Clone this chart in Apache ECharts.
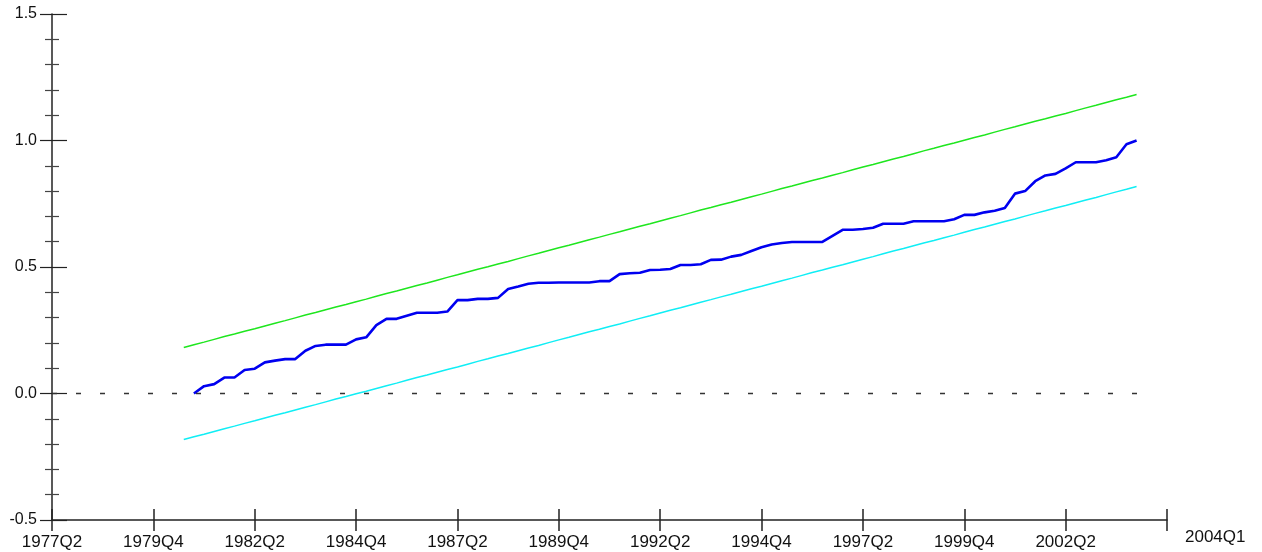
<!DOCTYPE html>
<html>
<head>
<meta charset="utf-8">
<script src="https://cdn.jsdelivr.net/npm/echarts@6/dist/echarts.min.js"></script>
<style>
  html, body { margin: 0; padding: 0; background: #fff; }
  #main { width: 1262px; height: 552px; }
</style>
</head>
<body>
<div id="main"></div>
<script>
// quarterly categories 1977Q2 .. 2004Q4 (axis length)
var startYear = 1977, startQ = 2, nQuarters = 111;
var quarters = [];
for (var i = 0; i < nQuarters; i++) {
    var q = startQ - 1 + i;
    quarters.push((startYear + Math.floor(q / 4)) + 'Q' + (q % 4 + 1));
}

var xTickLabels = ['1977Q2', '1979Q4', '1982Q2', '1984Q4', '1987Q2', '1989Q4',
                   '1992Q2', '1994Q4', '1997Q2', '1999Q4', '2002Q2'];
var xEndLabel = '2004Q1';
var yTicks = [-0.5, 0.0, 0.5, 1.0, 1.5];

// CUSUM of squares, 1980Q4 .. 2004Q1
var cusumStart = '1980Q4';
var cusumSq = [
    0.000, 0.029, 0.037, 0.063, 0.063, 0.093, 0.098, 0.123, 0.130, 0.136,
    0.136, 0.169, 0.188, 0.193, 0.193, 0.193, 0.214, 0.222, 0.270, 0.295,
    0.295, 0.307, 0.319, 0.319, 0.319, 0.324, 0.369, 0.369, 0.374, 0.374,
    0.378, 0.413, 0.423, 0.434, 0.438, 0.438, 0.439, 0.439, 0.439, 0.439,
    0.444, 0.444, 0.472, 0.475, 0.477, 0.488, 0.489, 0.492, 0.508, 0.508,
    0.511, 0.528, 0.529, 0.541, 0.548, 0.563, 0.578, 0.589, 0.595, 0.599,
    0.599, 0.599, 0.599, 0.623, 0.647, 0.647, 0.650, 0.655, 0.671, 0.671,
    0.671, 0.681, 0.681, 0.681, 0.681, 0.689, 0.706, 0.706, 0.716, 0.722,
    0.733, 0.790, 0.800, 0.839, 0.862, 0.868, 0.890, 0.914, 0.914, 0.914,
    0.922, 0.934, 0.985, 1.000
];

// 5% significance bands, 1980Q3 .. 2004Q1
var bandStart = '1980Q3';
var upperBand = [
    0.182, 0.193, 0.203, 0.214, 0.225, 0.235, 0.246, 0.256, 0.267, 0.278,
    0.288, 0.299, 0.310, 0.320, 0.331, 0.342, 0.352, 0.363, 0.373, 0.384,
    0.395, 0.405, 0.416, 0.427, 0.437, 0.448, 0.459, 0.469, 0.480, 0.491,
    0.501, 0.512, 0.522, 0.533, 0.544, 0.554, 0.565, 0.576, 0.586, 0.597,
    0.608, 0.618, 0.629, 0.639, 0.650, 0.661, 0.671, 0.682, 0.693, 0.703,
    0.714, 0.725, 0.735, 0.746, 0.756, 0.767, 0.778, 0.788, 0.799, 0.810,
    0.820, 0.831, 0.842, 0.852, 0.863, 0.873, 0.884, 0.895, 0.905, 0.916,
    0.927, 0.937, 0.948, 0.959, 0.969, 0.980, 0.990, 1.001, 1.012, 1.022,
    1.033, 1.044, 1.054, 1.065, 1.076, 1.086, 1.097, 1.107, 1.118, 1.129,
    1.139, 1.150, 1.161, 1.171, 1.182
];
var lowerBand = [
    -0.182, -0.171, -0.161, -0.150, -0.139, -0.129, -0.118, -0.108, -0.097, -0.086,
    -0.076, -0.065, -0.054, -0.044, -0.033, -0.022, -0.012, -0.001, 0.009, 0.020,
    0.031, 0.041, 0.052, 0.063, 0.073, 0.084, 0.095, 0.105, 0.116, 0.127,
    0.137, 0.148, 0.158, 0.169, 0.180, 0.190, 0.201, 0.212, 0.222, 0.233,
    0.244, 0.254, 0.265, 0.275, 0.286, 0.297, 0.307, 0.318, 0.329, 0.339,
    0.350, 0.361, 0.371, 0.382, 0.392, 0.403, 0.414, 0.424, 0.435, 0.446,
    0.456, 0.467, 0.478, 0.488, 0.499, 0.509, 0.520, 0.531, 0.541, 0.552,
    0.563, 0.573, 0.584, 0.595, 0.605, 0.616, 0.626, 0.637, 0.648, 0.658,
    0.669, 0.680, 0.690, 0.701, 0.712, 0.722, 0.733, 0.743, 0.754, 0.765,
    0.775, 0.786, 0.797, 0.807, 0.818
];

var zeroFrom = '1977Q2', zeroTo = '2004Q2';

function toPairs(start, vals) {
    var s = quarters.indexOf(start);
    return vals.map(function (v, k) { return [s + k, v]; });
}

var FONT = '"Liberation Sans", Arial, sans-serif';
var AXIS_COLOR = '#222';

var myChart = echarts.init(document.getElementById('main'));

var option = {
    animation: false,
    backgroundColor: '#fff',
    grid: { left: 52, right: 95, top: 14, bottom: 32, containLabel: false },
    xAxis: [{
        type: 'category',
        data: quarters,
        boundaryGap: false,
        position: 'bottom',
        axisLine: { onZero: false, lineStyle: { color: AXIS_COLOR, width: 1.5 } },
        axisTick: {
            length: 11,
            interval: function (idx) { return idx % 10 === 0; },
            lineStyle: { color: AXIS_COLOR, width: 1.5 }
        },
        axisLabel: {
            interval: function (idx, val) { return xTickLabels.indexOf(val) >= 0; },
            margin: 14,
            color: '#111',
            fontSize: 17,
            fontFamily: FONT,
            hideOverlap: false
        },
        splitLine: { show: false },
        name: xEndLabel,
        nameLocation: 'end',
        nameGap: 18,
        nameTextStyle: {
            color: '#111', fontSize: 17, fontFamily: FONT,
            verticalAlign: 'top', lineHeight: 17, padding: [9, 0, 0, 0]
        }
    }, {
        type: 'category',
        data: quarters,
        boundaryGap: false,
        position: 'bottom',
        axisLine: { show: false, onZero: false },
        axisTick: {
            inside: true,
            length: 11,
            interval: function (idx) { return idx % 10 === 0; },
            lineStyle: { color: AXIS_COLOR, width: 1.5 }
        },
        axisLabel: { show: false },
        splitLine: { show: false }
    }],
    yAxis: [{
        type: 'value',
        min: yTicks[0],
        max: yTicks[yTicks.length - 1],
        interval: 0.5,
        position: 'left',
        axisLine: { show: true, onZero: false, lineStyle: { color: AXIS_COLOR, width: 1.5 } },
        axisTick: { show: true, length: 12, lineStyle: { color: AXIS_COLOR, width: 1.2 } },
        minorTick: { show: true, splitNumber: 5, length: 7, lineStyle: { color: '#444', width: 1.2 } },
        axisLabel: {
            margin: 15,
            color: '#111',
            fontSize: 16,
            fontFamily: FONT,
            formatter: function (v) { return v.toFixed(1); }
        },
        splitLine: { show: false }
    }, {
        type: 'value',
        min: yTicks[0],
        max: yTicks[yTicks.length - 1],
        interval: 0.5,
        position: 'left',
        offset: 0,
        axisLine: { show: false, onZero: false },
        axisTick: { show: true, inside: true, length: 15, lineStyle: { color: AXIS_COLOR, width: 1.2 } },
        minorTick: { show: true, splitNumber: 5, length: 7, lineStyle: { color: '#444', width: 1.2 } },
        axisLabel: { show: false },
        splitLine: { show: false }
    }],
    series: [{
        name: 'Upper',
        type: 'line',
        showSymbol: false,
        data: toPairs(bandStart, upperBand),
        lineStyle: { color: '#1ee61e', width: 1.5 },
        z: 2
    }, {
        name: 'Lower',
        type: 'line',
        showSymbol: false,
        data: toPairs(bandStart, lowerBand),
        lineStyle: { color: '#10eef5', width: 1.5 },
        z: 2
    }, {
        name: 'CUSUM of Squares',
        type: 'line',
        showSymbol: false,
        data: toPairs(cusumStart, cusumSq),
        lineStyle: { color: '#0000f0', width: 2.6 },
        z: 3,
        markLine: {
            silent: true,
            symbol: ['none', 'none'],
            label: { show: false },
            lineStyle: { color: '#333', width: 1.4, type: [5, 19] },
            data: [[
                { coord: [quarters.indexOf(zeroFrom), 0] },
                { coord: [quarters.indexOf(zeroTo), 0] }
            ]]
        }
    }]
};

myChart.setOption(option);
</script>
</body>
</html>
